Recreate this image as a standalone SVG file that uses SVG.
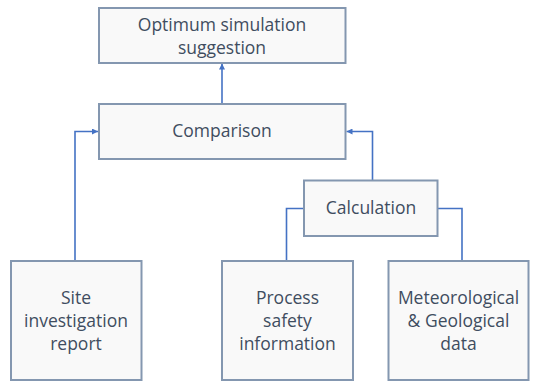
<svg xmlns="http://www.w3.org/2000/svg" width="535" height="381" viewBox="0 0 535 381">
<style>
.box{fill:#f9f9f9;stroke:#8497b0;stroke-width:2}
.t{font-family:"Open Sans","Noto Sans",sans-serif;font-size:17.5px;fill:#3f4d60;text-anchor:middle}
.c{fill:none;stroke:#4472c4;stroke-width:1.6}
</style>
<defs>
<marker id="ah" viewBox="0 0 10 10" refX="10" refY="5" markerWidth="6" markerHeight="6" markerUnits="userSpaceOnUse" orient="auto">
<path d="M0,0 L10,5 L0,10 z" fill="#4472c4"/>
</marker>
</defs>
<g id="connectors">
<path class="c" d="M222,104 V63.5" marker-end="url(#ah)"/>
<path class="c" d="M75,261 V131.5 H98" marker-end="url(#ah)"/>
<path class="c" d="M372.5,180 V131.5 H346.5" marker-end="url(#ah)"/>
<path class="c" d="M304,208.5 H286.5 V261"/>
<path class="c" d="M437.5,208.5 H462 V261"/>
</g>
<g id="optimum">
<rect class="box" x="99" y="8" width="246.5" height="55"/>
<text class="t" x="222" y="31">Optimum simulation</text>
<text class="t" x="222" y="54">suggestion</text>
</g>
<g id="comparison">
<rect class="box" x="99" y="104" width="246.5" height="55"/>
<text class="t" x="222" y="137">Comparison</text>
</g>
<g id="calculation">
<rect class="box" x="304" y="180.5" width="133.5" height="55.5"/>
<text class="t" x="371" y="214">Calculation</text>
</g>
<g id="site">
<rect class="box" x="11" y="261" width="130.5" height="119"/>
<text class="t" x="76" y="304">Site</text>
<text class="t" x="76" y="327">investigation</text>
<text class="t" x="76" y="350">report</text>
</g>
<g id="process">
<rect class="box" x="222" y="261" width="131" height="119"/>
<text class="t" x="287.5" y="304">Process</text>
<text class="t" x="287.5" y="327">safety</text>
<text class="t" x="287.5" y="350">information</text>
</g>
<g id="meteo">
<rect class="box" x="388.5" y="261" width="140" height="119"/>
<text class="t" x="458.5" y="304">Meteorological</text>
<text class="t" x="458.5" y="327">&amp; Geological</text>
<text class="t" x="458.5" y="350">data</text>
</g>
</svg>
